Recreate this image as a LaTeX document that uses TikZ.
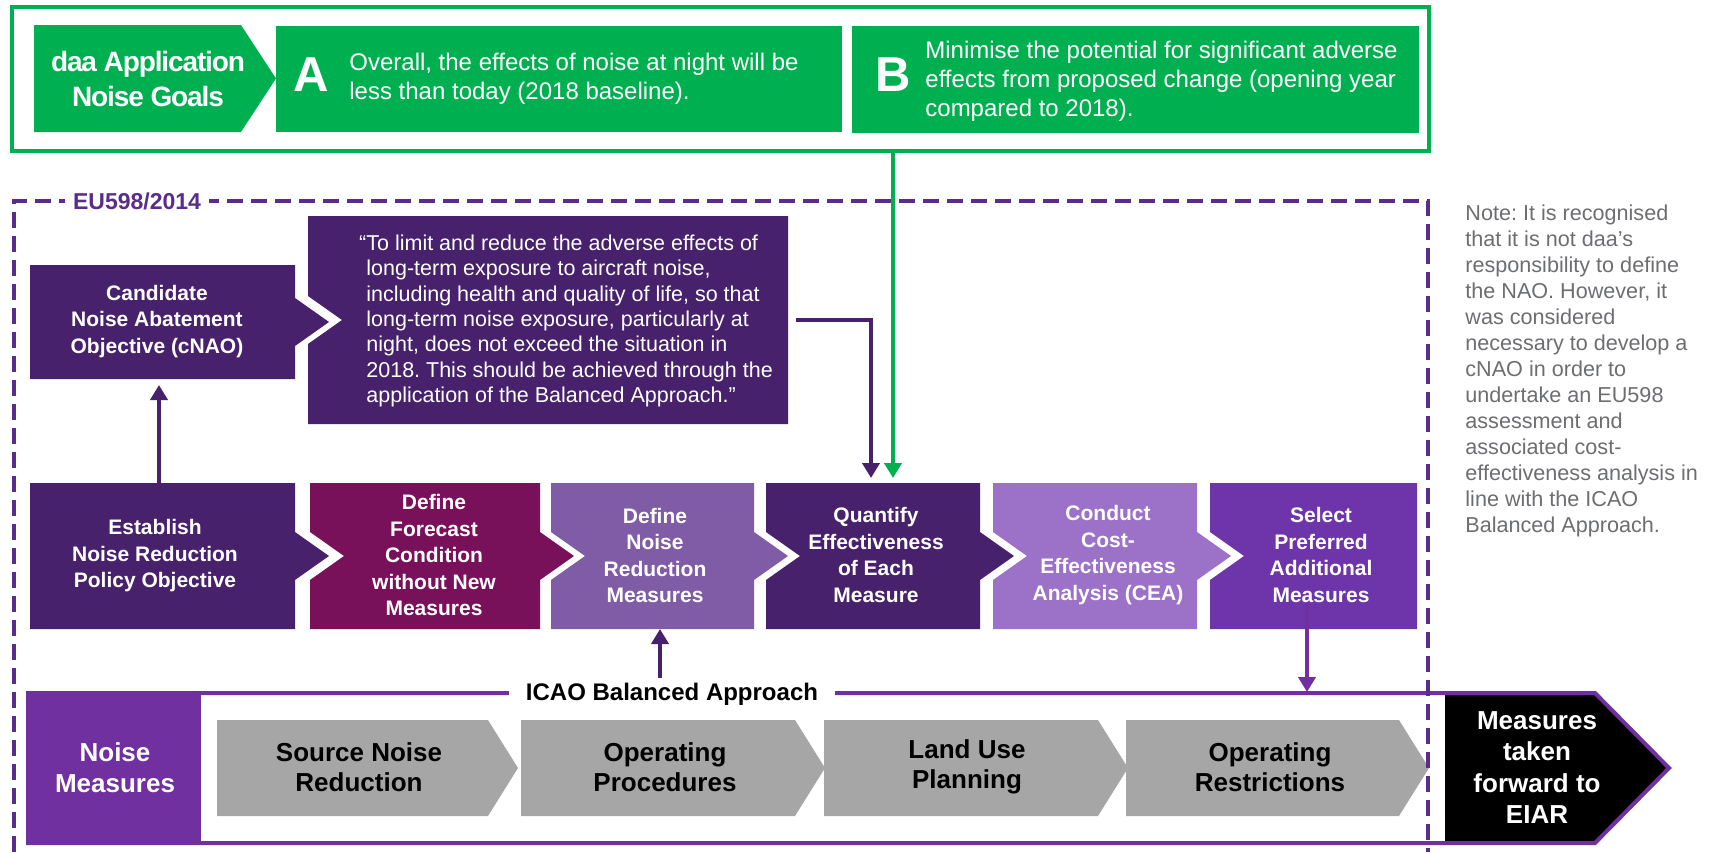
\documentclass[tikz,border=0pt]{standalone}
\usepackage{fontspec}
\setmainfont{Liberation Sans}
\newfontfamily\tightsans[LetterSpace=-4.0]{Liberation Sans}
\usetikzlibrary{arrows.meta,calc}
\frenchspacing
\definecolor{gGreen}{HTML}{00B050}
\definecolor{dPurple}{HTML}{47216B}
\definecolor{mPlum}{HTML}{79115A}
\definecolor{lavA}{HTML}{7F5CA5}
\definecolor{lavB}{HTML}{9B72C8}
\definecolor{vPurple}{HTML}{6E35AB}
\definecolor{barPurple}{HTML}{7030A0}
\definecolor{dashPurple}{HTML}{5A2D8C}
\definecolor{grayBox}{HTML}{A6A6A6}
\definecolor{noteGray}{HTML}{6D6E71}
% box node spanning L,T,R,B in pixel units
\newcommand\placebox[6][]{\node[boxn,#1,minimum width={(#5-#3)*0.5pt},minimum height={(#6-#4)*0.5pt}] (#2) at ({(#3+#5)/2},{(#4+#6)/2}) {};}
% chevron fill: node, colour, notch depth, tip depth
\newcommand\chevfill[4]{\fill[#2] (#1.north west) -- (#1.north east) -- ($(#1.east)+(0,-24)$) -- ($(#1.east)+(#4,0)$) -- ($(#1.east)+(0,24)$) -- (#1.south east) -- (#1.south west) -- ($(#1.west)+(0,24)$) -- ($(#1.west)+(#3,0)$) -- ($(#1.west)+(0,-24)$) -- cycle;}
% pentagon arrow fill: node, colour, tip depth
\newcommand\pentfill[3]{\fill[#2] (#1.north west) -- (#1.north east) -- ($(#1.east)+(#3,0)$) -- (#1.south east) -- (#1.south west) -- cycle;}
\begin{document}
\begin{tikzpicture}[x=0.5pt,y=-0.5pt,
  boxn/.style={inner sep=0pt,outer sep=0pt},
  ptext/.style={inner sep=0pt,text=white,align=center,font=\bfseries\fontsize{10.5}{13.25}\selectfont},
  gtext/.style={inner sep=0pt,text=black,align=center,font=\bfseries\fontsize{13}{15}\selectfont},
  wtext/.style={inner sep=0pt,text=white,align=center,font=\bfseries\fontsize{13}{15.75}\selectfont},
  goaltext/.style={inner sep=0pt,text=white,align=left,font=\fontsize{12}{14.5}\selectfont},
  bigletter/.style={inner sep=0pt,text=white,font=\bfseries\fontsize{24.5}{26}\selectfont},
  arr/.style={line width=2.25pt,-{Triangle[length=7.5pt,width=8.5pt]}},
]
\useasboundingbox (0,0) rectangle (1714,852);
\fill[white] (0,0) rectangle (1714,852);

% ---------- goals ----------
\placebox[draw=gGreen,line width=2.25pt,fill=white]{goals}{12}{7}{1429}{151}
\placebox{daa}{34}{25}{241}{132}
\pentfill{daa}{gGreen}{35}
\node[inner sep=0pt,text=white,align=center,font=\tightsans\bfseries\fontsize{14}{17.5}\selectfont] (daat) at (148,79) {daa Application\\Noise Goals};
\placebox[fill=gGreen]{boxa}{276}{26}{842}{132}
\node[bigletter] (leta) at (311,75) {A};
\node[goaltext,anchor=west] (goala) at (349,79) {Overall, the effects of noise at night will be\\less than today (2018 baseline).};
\placebox[fill=gGreen]{boxb}{852}{26}{1419}{133}
\node[bigletter] (letb) at (893,75) {B};
\node[goaltext,anchor=west] (goalb) at (925,81) {Minimise the potential for significant adverse\\effects from proposed change (opening year\\compared to 2018).};

% ---------- ICAO bar ----------
\placebox{bar}{28}{693}{1595}{843}
\placebox[fill=barPurple]{nm}{28}{693}{201}{843}
\placebox{eiar}{1445}{693}{1595}{843}
\pentfill{eiar}{black}{74}
\placebox{src}{217}{720}{488}{816}
\placebox{opp}{521}{720}{795}{816}
\placebox{lup}{824}{720}{1098}{816}
\placebox{opr}{1126}{720}{1399}{816}
\pentfill{src}{grayBox}{30}
\pentfill{opp}{grayBox}{30}
\pentfill{lup}{grayBox}{30}
\pentfill{opr}{grayBox}{30}
\draw[barPurple,line width=2pt,line join=miter] (bar.north west) -- (bar.north east) -- ($(bar.east)+(74,0)$) -- (bar.south east) -- (bar.south west) -- cycle;
\node[wtext] (nmt) at (115,767.5) {Noise\\Measures};
\node[gtext] (srct) at (359,767) {Source Noise\\Reduction};
\node[gtext] (oppt) at (665,767) {Operating\\Procedures};
\node[gtext] (lupt) at (967,767) {Land Use\\Planning};
\node[gtext] (oprt) at (1270,767) {Operating\\Restrictions};
\node[wtext] (eiart) at (1537,767.5) {Measures\\taken\\forward to\\EIAR};
\node[fill=white,inner xsep=8.5pt,inner ysep=2pt,text=black,font=\bfseries\fontsize{12}{14}\selectfont] (icao) at (672,694) {ICAO Balanced Approach};

% ---------- EU598 dashed frame ----------
\draw[dashPurple,line width=1.75pt,dash pattern=on 8pt off 4pt] (14,852) -- (14,201) -- (1428,201) -- (1428,852);
\node[fill=white,inner xsep=4pt,inner ysep=1pt,text=dashPurple,font=\bfseries\fontsize{11.5}{13}\selectfont] (eu) at (137,201) {EU598/2014};

% ---------- cNAO + quote ----------
\placebox{cnao}{30}{265}{295}{379}
\chevfill{cnao}{dPurple}{0}{34}
\node[ptext] (cnaot) at (157,321.5) {Candidate\\Noise Abatement\\Objective (cNAO)};
\placebox{quote}{308}{216}{788}{424}
\chevfill{quote}{dPurple}{34}{0}
\node[inner sep=0pt,text=white,align=left,anchor=west,font=\fontsize{10.75}{12.65}\selectfont] (quotet) at (366,321) {\llap{“}To limit and reduce the adverse effects of\\long-term exposure to aircraft noise,\\including health and quality of life, so that\\long-term noise exposure, particularly at\\night, does not exceed the situation in\\2018. This should be achieved through the\\application of the Balanced Approach.”};

% ---------- process row ----------
\placebox{est}{30}{483}{295}{629}
\placebox{fore}{310}{483}{540}{629}
\placebox{defn}{551}{483}{754}{629}
\placebox{quant}{766}{483}{980}{629}
\placebox{cea}{993}{483}{1197}{629}
\placebox{sel}{1210}{483}{1417}{629}
\chevfill{est}{dPurple}{0}{34}
\chevfill{fore}{mPlum}{34}{34}
\chevfill{defn}{lavA}{34}{34}
\chevfill{quant}{dPurple}{34}{34}
\chevfill{cea}{lavB}{34}{34}
\chevfill{sel}{vPurple}{34}{0}
\node[ptext] (estt) at (155,556) {Establish\\Noise Reduction\\Policy Objective};
\node[ptext] (foret) at (434,555) {Define\\Forecast\\Condition\\without New\\Measures};
\node[ptext] (defnt) at (655,555.5) {Define\\Noise\\Reduction\\Measures};
\node[ptext] (quantt) at (876,555) {Quantify\\Effectiveness\\of Each\\Measure};
\node[ptext] (ceat) at (1108,555) {Conduct\\Cost-\\Effectiveness\\Analysis (CEA)};
\node[ptext] (selt) at (1321,555) {Select\\Preferred\\Additional\\Measures};

% ---------- connectors ----------
\coordinate (xa) at (159,0);
\coordinate (xb) at (871,0);
\coordinate (xg) at (893,0);
\coordinate (xc) at (660,0);
\coordinate (ss) at (1307,603);
\draw[arr,dPurple,shorten >=3pt] (est.north -| xa) -- (cnao.south -| xa);
\draw[arr,dPurple,shorten <=4pt,shorten >=2.5pt] (quote.east) -| (quant.north -| xb);
\draw[arr,gGreen,shorten >=2.5pt] (goals.south -| xg) -- (quant.north -| xg);
\draw[arr,dPurple] (icao.north -| xc) -- (defn.south -| xc);
\draw[arr,barPurple,shorten >=0.5pt] (ss) -- (bar.north -| ss);

% ---------- note ----------
\node[inner sep=0pt,text=noteGray,align=left,anchor=west,font=\fontsize{10.8}{13}\selectfont] (note) at (1465,371) {Note: It is recognised\\that it is not daa’s\\responsibility to define\\the NAO. However, it\\was considered\\necessary to develop a\\cNAO in order to\\undertake an EU598\\assessment and\\associated cost-\\effectiveness analysis in\\line with the ICAO\\Balanced Approach.};
\end{tikzpicture}
\end{document}
